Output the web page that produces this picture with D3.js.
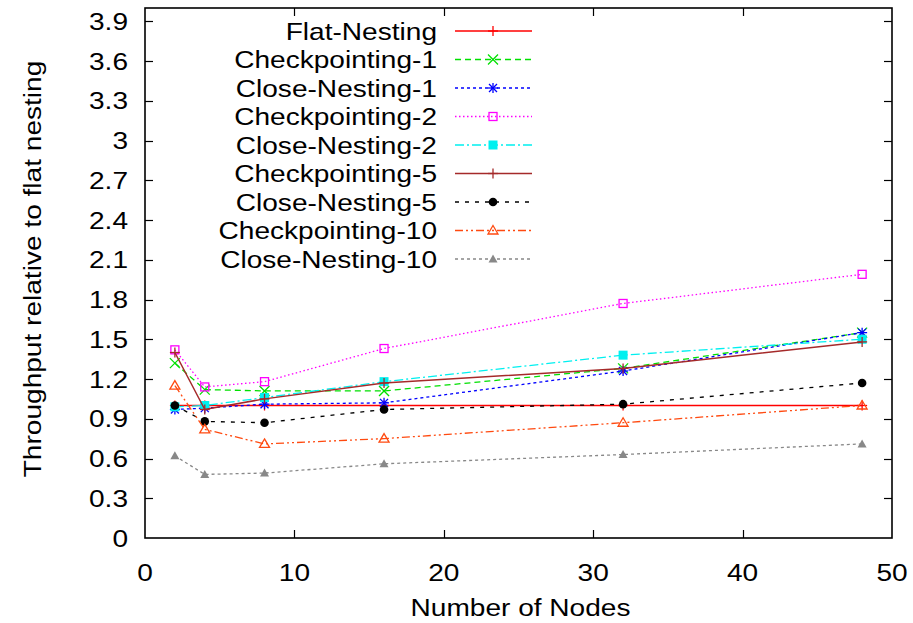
<!DOCTYPE html>
<html><head><meta charset="utf-8">
<script src="https://cdn.jsdelivr.net/npm/d3@7"></script>
<style>html,body{margin:0;padding:0;background:#fff;} svg{display:block;} text{font-family:"Liberation Sans",Arial,Helvetica,sans-serif;}</style>
</head><body>
<svg id="c" width="913" height="623"></svg>
<script>
const nodes = [2, 4, 8, 16, 32, 48];
const seriesNames = ["Flat-Nesting","Checkpointing-1","Close-Nesting-1","Checkpointing-2","Close-Nesting-2","Checkpointing-5","Close-Nesting-5","Checkpointing-10","Close-Nesting-10"];
const flatNesting     = [1.00, 1.00, 1.00, 1.00, 1.00, 1.00];
const checkpointing1  = [1.32, 1.12, 1.11, 1.11, 1.28, 1.55];
const closeNesting1   = [0.97, 0.98, 1.01, 1.02, 1.26, 1.55];
const checkpointing2  = [1.42, 1.14, 1.18, 1.43, 1.77, 1.99];
const closeNesting2   = [0.99, 1.00, 1.06, 1.18, 1.38, 1.50];
const checkpointing5  = [1.40, 0.97, 1.05, 1.17, 1.28, 1.48];
const closeNesting5   = [1.00, 0.88, 0.87, 0.97, 1.01, 1.17];
const checkpointing10 = [1.15, 0.82, 0.71, 0.75, 0.87, 1.00];
const closeNesting10  = [0.62, 0.48, 0.49, 0.56, 0.63, 0.71];
const yTicks = [0, 0.3, 0.6, 0.9, 1.2, 1.5, 1.8, 2.1, 2.4, 2.7, 3, 3.3, 3.6, 3.9];
const xTicks = [0, 10, 20, 30, 40, 50];
const xTitle = "Number of Nodes";
const yTitle = "Throughput relative to flat nesting";

const allValues = [flatNesting, checkpointing1, closeNesting1, checkpointing2, closeNesting2, checkpointing5, closeNesting5, checkpointing10, closeNesting10];
const styles = [
  {color:"#ff0000", dash:null, marker:"plus", w:1.6},
  {color:"#00e000", dash:"6,4", marker:"cross", w:1.3},
  {color:"#0000ff", dash:"3,3", marker:"star", w:1.3},
  {color:"#ff00ff", dash:"1.5,2.5", marker:"square", w:1.3},
  {color:"#00f0f0", dash:"9,3,2,3", marker:"fsquare", w:1.3},
  {color:"#a52a2a", dash:null, marker:"plus", w:1.5},
  {color:"#000000", dash:"4,6", marker:"circle", w:1.3},
  {color:"#ff4a10", dash:"8,3,2,3,2,3", marker:"triangle", w:1.3},
  {color:"#888888", dash:"3,3", marker:"ftriangle", w:1.3}
];

const L = 145, R = 892, T = 8, B = 538;
const x = d3.scaleLinear().domain([0, 50]).range([L, R]);
const y = d3.scaleLinear().domain([0, 4.0]).range([B, T]);
const svg = d3.select("#c");
const SX = 1.17, FS = 24;

function txt(g, tx, ty, s, anchor, rot) {
  return g.append("text")
    .attr("transform", `translate(${tx},${ty})` + (rot ? ` rotate(${rot})` : "") + ` scale(${SX},1)`)
    .attr("text-anchor", anchor).attr("font-size", FS).attr("fill", "#000").text(s);
}

const ax = svg.append("g");
const tl = 8;
yTicks.forEach(v => {
  const yy = Math.round(y(v)) + 0.5;
  if (v !== 0) {
    ax.append("line").attr("x1", L).attr("x2", L + tl).attr("y1", yy).attr("y2", yy).attr("stroke", "#000").attr("stroke-width", 1.2);
    ax.append("line").attr("x1", R - tl).attr("x2", R).attr("y1", yy).attr("y2", yy).attr("stroke", "#000").attr("stroke-width", 1.2);
  }
  txt(ax, 128, y(v) + 8.5, d3.format("~g")(v), "end");
});
xTicks.forEach(v => {
  const xx = Math.round(x(v)) + 0.5;
  if (v !== 0 && v !== 50) {
    ax.append("line").attr("x1", xx).attr("x2", xx).attr("y1", B).attr("y2", B - tl).attr("stroke", "#000").attr("stroke-width", 1.2);
    ax.append("line").attr("x1", xx).attr("x2", xx).attr("y1", T).attr("y2", T + tl).attr("stroke", "#000").attr("stroke-width", 1.2);
  }
  txt(ax, x(v), 581, String(v), "middle");
});
txt(ax, (L + R) / 2 + 2, 616, xTitle, "middle");
txt(ax, 41, 269, yTitle, "middle", -90);

function marker(g, type, cx, cy, color) {
  const s = 5;
  const m = g.append("g").attr("transform", `translate(${cx},${cy})`);
  const line = (x1, y1, x2, y2) => m.append("line").attr("x1", x1).attr("y1", y1).attr("x2", x2).attr("y2", y2).attr("stroke", color).attr("stroke-width", 1.3);
  if (type === "plus") { line(-s, 0, s, 0); line(0, -s, 0, s); }
  else if (type === "cross") { line(-s, -s, s, s); line(-s, s, s, -s); }
  else if (type === "star") { line(-s, 0, s, 0); line(0, -s, 0, s); line(-s+1, -s+1, s-1, s-1); line(-s+1, s-1, s-1, -s+1); }
  else if (type === "square") { m.append("rect").attr("x", -4).attr("y", -4).attr("width", 8).attr("height", 8).attr("fill", "none").attr("stroke", color).attr("stroke-width", 1.3); }
  else if (type === "fsquare") { m.append("rect").attr("x", -4.5).attr("y", -4.5).attr("width", 9).attr("height", 9).attr("fill", color); }
  else if (type === "circle") { m.append("circle").attr("r", 4.3).attr("fill", color); }
  else if (type === "triangle") { m.append("path").attr("d", "M0,-5L5,3.5L-5,3.5Z").attr("fill", "none").attr("stroke", color).attr("stroke-width", 1.3); }
  else if (type === "ftriangle") { m.append("path").attr("d", "M0,-4.5L4.5,3.5L-4.5,3.5Z").attr("fill", color); }
}

const plot = svg.append("g");
const lineGen = d3.line().x((d, i) => x(nodes[i])).y(d => y(d));
allValues.forEach((vals, k) => {
  const st = styles[k];
  plot.append("path").datum(vals).attr("d", lineGen).attr("fill", "none")
    .attr("stroke", st.color).attr("stroke-width", st.w).attr("stroke-dasharray", st.dash);
  vals.forEach((v, i) => marker(plot, st.marker, x(nodes[i]), y(v), st.color));
});

const lg = svg.append("g");
seriesNames.forEach((name, k) => {
  const st = styles[k];
  const cy = 31 + k * 28.5;
  txt(lg, 437, cy + 8.5, name, "end");
  lg.append("line").attr("x1", 455).attr("x2", 532).attr("y1", cy).attr("y2", cy)
    .attr("stroke", st.color).attr("stroke-width", st.w).attr("stroke-dasharray", st.dash);
  marker(lg, st.marker, 493, cy, st.color);
});

svg.append("rect").attr("x", L).attr("y", T).attr("width", R - L).attr("height", B - T)
  .attr("fill", "none").attr("stroke", "#000").attr("stroke-width", 1.6);
</script>
</body></html>
